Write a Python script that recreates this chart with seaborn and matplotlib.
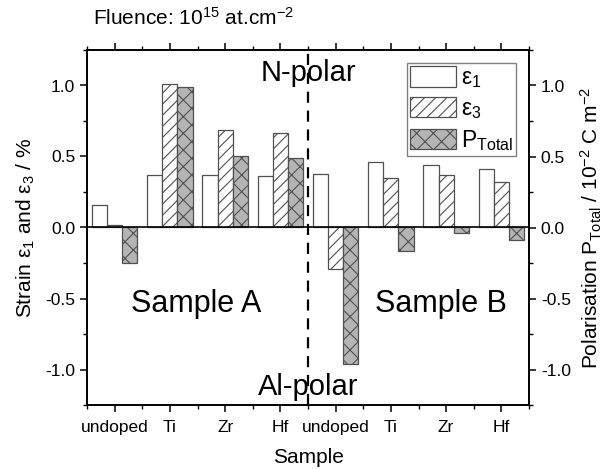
import matplotlib
matplotlib.use("Agg")
import matplotlib.pyplot as plt
import matplotlib.patches as mpatches
from matplotlib.ticker import MultipleLocator
import seaborn as sns
import pandas as pd
import numpy as np

# ---- data ----
positions = ["A-undoped", "A-Ti", "A-Zr", "A-Hf", "B-undoped", "B-Ti", "B-Zr", "B-Hf"]
tick_labels = ["undoped", "Ti", "Zr", "Hf", "undoped", "Ti", "Zr", "Hf"]
series = ["e1", "e3", "P"]
eps1 = [0.16, 0.37, 0.37, 0.36, 0.38, 0.46, 0.44, 0.41]
eps3 = [0.015, 1.01, 0.685, 0.665, -0.29, 0.35, 0.37, 0.32]
ptotal = [-0.25, 0.99, 0.505, 0.49, -0.96, -0.165, -0.04, -0.085]

rows = []
for s, vals in zip(series, [eps1, eps3, ptotal]):
    for p, v in zip(positions, vals):
        rows.append({"pos": p, "series": s, "value": v})
df = pd.DataFrame(rows)

sns.set_style("ticks")
plt.rcParams["font.family"] = ["Liberation Sans", "DejaVu Sans"]
plt.rcParams["mathtext.fontset"] = "custom"
plt.rcParams["mathtext.rm"] = "Liberation Sans"
plt.rcParams["mathtext.it"] = "Liberation Sans:italic"
plt.rcParams["mathtext.bf"] = "Liberation Sans:bold"
plt.rcParams["axes.unicode_minus"] = False
plt.rcParams["hatch.linewidth"] = 0.8
for k in ["text.color", "axes.labelcolor", "xtick.color", "ytick.color", "axes.edgecolor"]:
    plt.rcParams[k] = "black"

fig = plt.figure(figsize=(6.07, 4.69), dpi=100)
ax = fig.add_axes([87/607, 1-405/469, (529-87)/607, (405-50)/469])

edge = "#505050"
palette = {"e1": "white", "e3": "white", "P": "#b4b4b4"}
sns.barplot(data=df, x="pos", y="value", hue="series", order=positions,
            hue_order=series, palette=palette, width=0.82, gap=0,
            edgecolor=edge, linewidth=0.9, ax=ax, legend=False, errorbar=None)

hatches = {"e1": None, "e3": "///", "P": "xx"}
n = len(positions)
for i, patch in enumerate(ax.patches[:n*3]):
    s = series[i // n]
    if hatches[s]:
        patch.set_hatch(hatches[s])
    patch.set_edgecolor(edge)

ax.set_xlim(-0.5, 7.5)
ax.set_ylim(-1.25, 1.25)
ax.axhline(0, color="black", lw=1.2, zorder=5)
ax.axvline(3.5, color="black", lw=1.6, ls=(0, (5, 3.5)), zorder=5)

ax.set_xticks(range(n))
ax.set_xticklabels(tick_labels, fontsize=12.5)
ax.xaxis.set_minor_locator(MultipleLocator(1, offset=0.5))
ax.yaxis.set_major_locator(MultipleLocator(0.5))
ax.yaxis.set_minor_locator(MultipleLocator(0.25))
ax.tick_params(axis="both", which="major", direction="out", length=5, width=1.1,
               labelsize=12.5, top=True, color="black")
ax.tick_params(axis="x", which="major", pad=6)
ax.tick_params(axis="both", which="minor", direction="out", length=3, width=1.0, top=True)
ax.tick_params(axis="y", right=False)
for sp in ax.spines.values():
    sp.set_visible(True)
    sp.set_color("black")
    sp.set_linewidth(1.2)

ax.set_xlabel("Sample", fontsize=15, labelpad=9)
ax.set_ylabel("Strain ε$_1$ and ε$_3$ / %", fontsize=15, labelpad=6)

ax2 = ax.twinx()
ax2.set_ylim(-1.25, 1.25)
ax2.yaxis.set_major_locator(MultipleLocator(0.5))
ax2.yaxis.set_minor_locator(MultipleLocator(0.25))
ax2.tick_params(axis="y", which="major", direction="out", length=5, width=1.1, labelsize=12.5)
ax2.tick_params(axis="y", which="minor", direction="out", length=3, width=1.0)
for sp in ax2.spines.values():
    sp.set_color("black")
    sp.set_linewidth(1.2)
ax2.set_ylabel("Polarisation P$_{\\mathrm{Total}}$ / 10$^{-2}$ C m$^{-2}$", fontsize=15, labelpad=6)

# annotations
ax.text(3.5, 1.09, "N-polar", ha="center", va="center", fontsize=21)
ax.text(3.5, -1.12, "Al-polar", ha="center", va="center", fontsize=21)
ax.text(1.47, -0.54, "Sample A", ha="center", va="center", fontsize=22)
ax.text(5.9, -0.54, "Sample B", ha="center", va="center", fontsize=22)
fig.text(93/607, 1-18/469, "Fluence: 10$^{15}$ at.cm$^{-2}$", ha="left", va="center", fontsize=15)

handles = [
    mpatches.Patch(facecolor="white", edgecolor=edge, lw=0.9, label="ε$_1$"),
    mpatches.Patch(facecolor="white", edgecolor=edge, lw=0.9, hatch="///", label="ε$_3$"),
    mpatches.Patch(facecolor="#b4b4b4", edgecolor=edge, lw=0.9, hatch="xx", label="P$_{\\mathrm{Total}}$"),
]
leg = ax.legend(handles=handles, loc="upper right", fontsize=16.5, frameon=True,
                fancybox=False, edgecolor="#808080", framealpha=1,
                handlelength=2.0, handleheight=1.0, handletextpad=0.2,
                labelspacing=0.3, borderpad=0.15, borderaxespad=0.55)
leg.get_frame().set_linewidth(1.0)

fig.savefig("out.png", dpi=100)
